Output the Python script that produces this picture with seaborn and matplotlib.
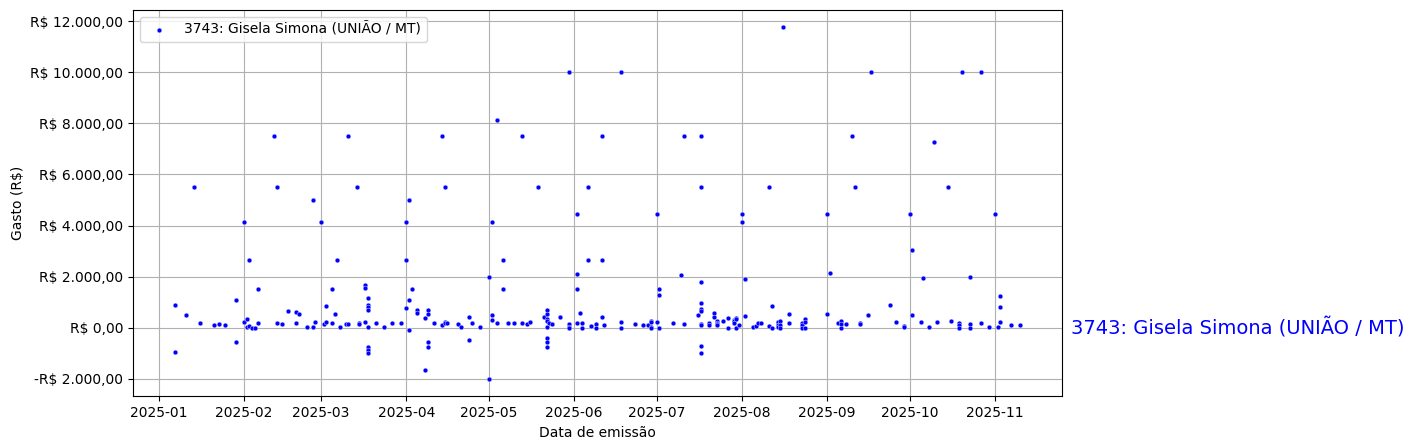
import pandas as pd
import seaborn as sns
import matplotlib.pyplot as plt
from matplotlib.ticker import FuncFormatter

deputado = '3743: Gisela Simona (UNIÃO / MT)'

# datas de emissao e os valores lancados em cada dia
emissao = [
    '2025-01-07', '2025-01-11', '2025-01-14', '2025-01-16', '2025-01-21', '2025-01-23',
    '2025-01-25', '2025-01-29', '2025-02-01', '2025-02-02', '2025-02-03', '2025-02-04',
    '2025-02-05', '2025-02-06', '2025-02-12', '2025-02-13', '2025-02-15', '2025-02-17',
    '2025-02-20', '2025-02-21', '2025-02-24', '2025-02-26', '2025-02-27', '2025-03-01',
    '2025-03-02', '2025-03-03', '2025-03-05', '2025-03-06', '2025-03-07', '2025-03-08',
    '2025-03-10', '2025-03-11', '2025-03-14', '2025-03-15', '2025-03-17', '2025-03-18',
    '2025-03-21', '2025-03-24', '2025-03-27', '2025-03-30', '2025-04-01', '2025-04-02',
    '2025-04-03', '2025-04-05', '2025-04-08', '2025-04-09', '2025-04-11', '2025-04-14',
    '2025-04-15', '2025-04-16', '2025-04-20', '2025-04-21', '2025-04-24', '2025-04-25',
    '2025-04-28', '2025-05-01', '2025-05-02', '2025-05-04', '2025-05-06', '2025-05-08',
    '2025-05-10', '2025-05-13', '2025-05-15', '2025-05-16', '2025-05-19', '2025-05-21',
    '2025-05-22', '2025-05-23', '2025-05-24', '2025-05-27', '2025-05-30', '2025-06-02',
    '2025-06-03', '2025-06-04', '2025-06-06', '2025-06-07', '2025-06-09', '2025-06-11',
    '2025-06-12', '2025-06-18', '2025-06-23', '2025-06-26', '2025-06-28', '2025-06-29',
    '2025-07-01', '2025-07-02', '2025-07-07', '2025-07-10', '2025-07-11', '2025-07-16',
    '2025-07-17', '2025-07-20', '2025-07-22', '2025-07-23', '2025-07-25', '2025-07-27',
    '2025-07-29', '2025-07-30', '2025-07-31', '2025-08-01', '2025-08-02', '2025-08-05',
    '2025-08-06', '2025-08-07', '2025-08-08', '2025-08-11', '2025-08-12', '2025-08-14',
    '2025-08-15', '2025-08-16', '2025-08-18', '2025-08-23', '2025-08-24', '2025-09-01',
    '2025-09-02', '2025-09-05', '2025-09-06', '2025-09-08', '2025-09-10', '2025-09-11',
    '2025-09-13', '2025-09-16', '2025-09-17', '2025-09-24', '2025-09-26', '2025-09-29',
    '2025-10-01', '2025-10-02', '2025-10-05', '2025-10-06', '2025-10-08', '2025-10-10',
    '2025-10-11', '2025-10-15', '2025-10-16', '2025-10-19', '2025-10-20', '2025-10-23',
    '2025-10-27', '2025-10-30', '2025-11-01', '2025-11-02', '2025-11-03', '2025-11-07',
    '2025-11-10',
]
valores = [
    [900, -930], [500], [5500], [190], [110], [150],
    [110], [1100, -570], [4150, 210], [350, 50], [2650, 80], [0],
    [0], [1500, 190], [7500], [5500, 190], [150], [670],
    [630, 190], [530], [15], [5000, 40], [240], [4150],
    [150], [240, 840], [1500, 190], [550], [2650], [40],
    [150], [7500, 150], [5500], [190, 150], [1680, 1570, 230], [1150, 910, 810, 710, 40, -760, -880, -970],
    [190], [40], [190], [190], [4150, 2650, 760], [5000, 1100, -90],
    [1500], [680, 590], [390, -1650], [690, 520, -570, -750], [190], [7500, 110],
    [5500, 210, 170], [170], [150], [40], [410, -490], [190],
    [30], [2000, -2000], [4150, 510, 310], [8130, 190], [2650, 1500], [190],
    [190], [7500, 190], [150], [230], [5500], [430],
    [710, 550, 330, 280, 30, -410, -570, -770], [190], [150], [430], [10000, 150, 40, 0], [4470, 2100, 1500, 190],
    [590], [190, 0], [5500, 2650], [80], [150, 0], [7500, 2650, 430],
    [110], [10000, 230, 0], [150], [110], [110], [270, 210, 40, 0],
    [4470, 230], [1500, 1300, 0], [190], [2050], [7500, 150], [510],
    [7500, 5500, 1800, 950, 750, 640, 150, 110, -720, -1000], [190, 110], [570, 430], [270, 190, 150, 110], [270], [390, 0],
    [310, 270, 190], [390, 350, 0], [110], [4470, 4150], [1900, 470], [30],
    [80], [190], [190], [5500, 70], [840, 0], [230, 210, 110, 30],
    [270, 110, 0], [11750], [550, 190], [190, 110, 0], [350, 210, 0], [4470, 550],
    [2150], [190], [270, 150, 0], [150], [7500], [5500],
    [190, 150], [510], [10000], [910], [230], [80, 30],
    [4470], [3050, 510], [230], [1950], [30], [7250],
    [230], [5500], [270], [190, 110, 0], [10000], [2000, 150, 0],
    [10000, 190], [30], [4470], [30], [1250, 830, 230], [110],
    [110],
]


def formata_real(v, pos):
    txt = f'{abs(v):,.2f}'.replace(',', 'X').replace('.', ',').replace('X', '.')
    return f'-R$ {txt}' if v < 0 else f'R$ {txt}'


def main():
    df = pd.DataFrame({'data': emissao, 'gasto': valores}).explode('gasto')
    df['data'] = pd.to_datetime(df['data'])
    df['gasto'] = df['gasto'].astype(float)

    fig, ax = plt.subplots(figsize=(14.14, 4.48), dpi=100)
    fig.subplots_adjust(left=0.094, right=0.751, top=0.978, bottom=0.115)

    sns.scatterplot(data=df, x='data', y='gasto', color='blue', s=12, label=deputado, ax=ax)

    ax.yaxis.set_major_formatter(FuncFormatter(formata_real))
    ax.set_xlabel('Data de emissão')
    ax.set_ylabel('Gasto (R$)')
    ax.grid(True)
    ax.set_axisbelow(True)
    ax.legend(loc='upper left')

    ax.annotate(deputado, xy=(1.01, 0), xycoords=('axes fraction', 'data'),
                va='center', ha='left', color='blue', fontsize=14)

    plt.savefig('out.png', dpi=100)
    plt.close()


if __name__ == '__main__':
    main()
